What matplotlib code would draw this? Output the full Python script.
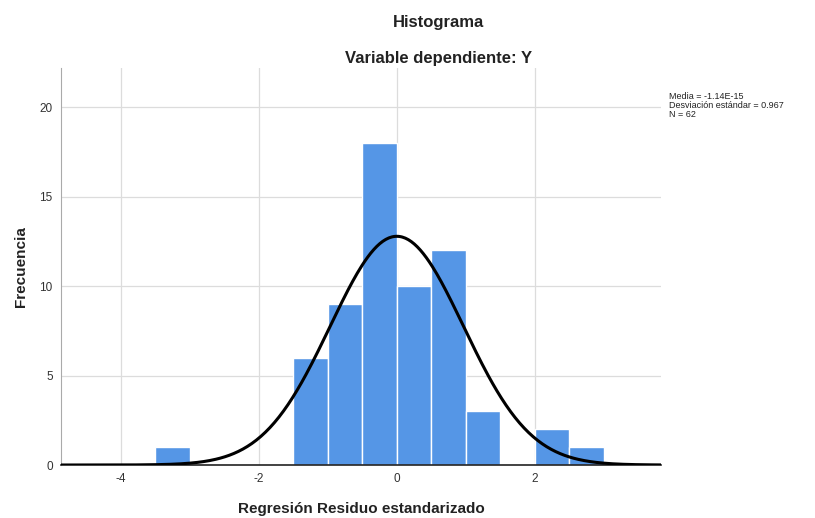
import numpy as np
import matplotlib.pyplot as plt

# datos del histograma (borde izquierdo de cada intervalo, ancho 0.5)
bin_left = [-3.5, -1.5, -1.0, -0.5, 0.0, 0.5, 1.0, 2.0, 2.5]
counts = [1, 6, 9, 18, 10, 12, 3, 2, 1]
bin_width = 0.5
media = -1.14e-15
desv = 0.967
n = 62

plt.rcParams['font.family'] = ['Liberation Sans', 'DejaVu Sans']
plt.rcParams['axes.unicode_minus'] = False

fig = plt.figure(figsize=(8.15, 5.18), dpi=100)
ax = fig.add_axes([0.0748, 0.1023, 0.7362, 0.7664])

ax.bar(bin_left, counts, width=bin_width, align='edge', color='#5596e6',
       edgecolor='white', linewidth=1.0, zorder=2)

# curva normal
xs = np.linspace(-4.87, 3.83, 400)
ys = n * bin_width / (desv * np.sqrt(2 * np.pi)) * np.exp(-0.5 * ((xs - media) / desv) ** 2)
ax.plot(xs, ys, color='black', linewidth=2.2, zorder=3)

ax.set_xlim(-4.87, 3.83)
ax.set_ylim(0, 22.2)
ax.set_xticks([-4, -2, 0, 2])
ax.set_yticks([0, 5, 10, 15, 20])
ax.grid(True, color='#dcdcdc', linewidth=0.9, zorder=0)
ax.set_axisbelow(True)

for s in ['top', 'right']:
    ax.spines[s].set_visible(False)
ax.spines['left'].set_color('#aaaaaa')
ax.spines['bottom'].set_color('#222222')
ax.spines['bottom'].set_linewidth(1.2)
ax.tick_params(axis='both', length=0, labelsize=8.5, labelcolor='#333333', pad=6)

ax.set_xlabel('Regresión Residuo estandarizado', fontsize=11, fontweight='bold',
              color='#222222', labelpad=12)
ax.set_ylabel('Frecuencia', fontsize=11, fontweight='bold', color='#222222')
ax.yaxis.set_label_coords(-0.055, 0.5)

fig.text(0.538, 0.956, 'Histograma', ha='center', va='center', fontsize=12,
         fontweight='bold', color='#222222')
fig.text(0.538, 0.888, 'Variable dependiente: Y', ha='center', va='center', fontsize=12,
         fontweight='bold', color='#222222')

fig.text(0.821, 0.822, 'Media = -1.14E-15\nDesviación estándar = 0.967\nN = 62',
         ha='left', va='top', fontsize=6.5, color='#222222', linespacing=1.0)

fig.savefig('out.png', dpi=100)
